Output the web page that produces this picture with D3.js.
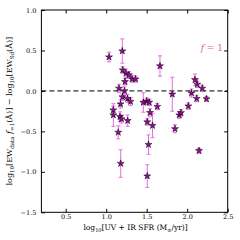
<!DOCTYPE html>
<html>
<head>
<meta charset="utf-8">
<script src="https://cdn.jsdelivr.net/npm/d3@7"></script>
<style>
  body { margin: 0; background: #fff; }
  svg { display: block; }
  text { font-family: "DejaVu Serif", "Liberation Serif", serif; }
</style>
</head>
<body>
<div id="chart"></div>
<script>
// log10 SFR, offset, error
var sfr = [1.035, 1.199, 1.664, 1.204, 1.244, 1.232, 1.281, 1.319, 1.362, 1.158,
           1.226, 1.201, 1.263, 1.300, 1.177, 1.088, 1.088, 1.170, 1.189, 1.265,
           1.149, 1.179, 1.458, 1.500, 1.532, 1.631, 1.541, 1.507, 1.572, 1.522,
           1.507, 1.849, 1.902, 1.923, 2.014, 2.053, 2.096, 2.125, 2.186, 2.117,
           2.238, 1.816, 2.146];
var offset = [0.419, 0.493, 0.308, 0.258, 0.218, 0.114, 0.197, 0.147, 0.147, 0.032,
              0.000, -0.075, -0.094, -0.131, -0.162, -0.236, -0.298, -0.319, -0.347, -0.368,
              -0.512, -0.897, -0.143, -0.127, -0.141, -0.193, -0.269, -0.384, -0.428, -0.663,
              -1.052, -0.468, -0.298, -0.270, -0.187, -0.026, 0.138, 0.082, 0.032, -0.094,
              -0.098, -0.041, -0.739];
var err = [0.06, 0.15, 0.125, 0.04, 0.05, 0.04, 0.04, 0.04, 0.04, 0.05,
           0.05, 0.04, 0.05, 0.05, 0.05, 0.05, 0.14, 0.06, 0.05, 0.07,
           0.08, 0.17, 0.12, 0.04, 0.04, 0.04, 0.05, 0.04, 0.15, 0.12,
           0.14, 0.05, 0.04, 0.04, 0.04, 0.05, 0.07, 0.04, 0.04, 0.04,
           0.03, 0.21, 0.03];

var xTicks = [0.5, 1.0, 1.5, 2.0, 2.5];
var yTicks = [1.0, 0.5, 0.0, -0.5, -1.0, -1.5];

var W = 240, H = 240;
var m = {left: 41.4, right: 12.3, top: 10, bottom: 27.7};

var svg = d3.select('#chart').append('svg')
  .attr('width', W).attr('height', H);

var x = d3.scaleLinear().domain([0.2, 2.5]).range([m.left, W - m.right]);
var y = d3.scaleLinear().domain([-1.5, 1.0]).range([H - m.bottom, m.top]);

var pts = sfr.map(function(d, i) { return {x: d, y: offset[i], e: err[i]}; });

// zero line
svg.append('line')
  .attr('x1', x(0.2)).attr('x2', x(2.5))
  .attr('y1', y(0)).attr('y2', y(0))
  .attr('stroke', '#000').attr('stroke-width', 1)
  .attr('stroke-dasharray', '5,3');

// error bars
var eb = svg.append('g').attr('stroke', '#e070e0').attr('stroke-width', 1);
pts.forEach(function(p) {
  eb.append('line')
    .attr('x1', x(p.x)).attr('x2', x(p.x))
    .attr('y1', y(p.y - p.e)).attr('y2', y(p.y + p.e));
  [p.y - p.e, p.y + p.e].forEach(function(v) {
    eb.append('line')
      .attr('x1', x(p.x) - 2).attr('x2', x(p.x) + 2)
      .attr('y1', y(v)).attr('y2', y(v));
  });
});

// stars
var star = d3.symbol().type(d3.symbolStar).size(15);
svg.append('g').selectAll('path')
  .data(pts)
  .enter().append('path')
  .attr('d', star)
  .attr('transform', function(d) { return 'translate(' + x(d.x) + ',' + y(d.y) + ')'; })
  .attr('fill', '#9c069c')
  .attr('stroke', '#000')
  .attr('stroke-width', 0.5);

// axes, ticks inward on all sides
function style(g) {
  g.select('.domain').remove();
  g.selectAll('line').attr('stroke', '#000');
  g.selectAll('text').attr('font-size', 6.5).attr('fill', '#000')
    .attr('font-family', '"DejaVu Serif", serif');
}
svg.append('g').attr('transform', 'translate(0,' + (H - m.bottom) + ')')
  .call(d3.axisBottom(x).tickValues(xTicks).tickSizeInner(-3.5).tickSizeOuter(0).tickPadding(2)
    .tickFormat(d3.format('.1f')))
  .call(style);
svg.append('g').attr('transform', 'translate(0,' + m.top + ')')
  .call(d3.axisTop(x).tickValues(xTicks).tickSizeInner(-3.5).tickSizeOuter(0).tickFormat(''))
  .call(style);
svg.append('g').attr('transform', 'translate(' + m.left + ',0)')
  .call(d3.axisLeft(y).tickValues(yTicks).tickSizeInner(-3.5).tickSizeOuter(0).tickPadding(5)
    .tickFormat(function(d) { return d3.format('.1f')(d).replace('-', '\u2212'); }))
  .call(style);
svg.append('g').attr('transform', 'translate(' + (W - m.right) + ',0)')
  .call(d3.axisRight(y).tickValues(yTicks).tickSizeInner(-3.5).tickSizeOuter(0).tickFormat(''))
  .call(style);

// frame
svg.append('rect')
  .attr('x', m.left).attr('y', m.top)
  .attr('width', W - m.left - m.right).attr('height', H - m.top - m.bottom)
  .attr('fill', 'none').attr('stroke', '#000').attr('stroke-width', 1);

// f = 1 annotation
var ann = svg.append('text')
  .attr('x', 223).attr('y', 51)
  .attr('text-anchor', 'end')
  .attr('font-size', 9)
  .attr('fill', '#e65aa5');
ann.append('tspan').attr('font-style', 'italic').text('f');
ann.append('tspan').text(' = 1');

// x label
var xl = svg.append('text')
  .attr('x', (m.left + W - m.right) / 2 + 1).attr('y', 230)
  .attr('text-anchor', 'middle')
  .attr('font-size', 7.5);
xl.append('tspan').text('log');
xl.append('tspan').attr('font-size', 5).attr('dy', 1.8).text('10');
xl.append('tspan').attr('dy', -1.8).text('[UV + IR SFR (M');
xl.append('tspan').attr('font-size', 5).attr('dy', 1.8).text('\u2299');
xl.append('tspan').attr('dy', -1.8).text('/yr)]');

// y label
var yl = svg.append('text')
  .attr('transform', 'translate(12,' + ((m.top + H - m.bottom) / 2) + ') rotate(-90)')
  .attr('text-anchor', 'middle')
  .attr('font-size', 8);
yl.append('tspan').text('log');
yl.append('tspan').attr('font-size', 5.5).attr('dy', 2).text('10');
yl.append('tspan').attr('dy', -2).text('[EW');
yl.append('tspan').attr('font-size', 5.5).attr('dy', 2).text('data');
yl.append('tspan').attr('dy', -2).attr('font-style', 'italic').text(' f');
yl.append('tspan').attr('font-size', 5.5).attr('dy', 2).text('=1');
yl.append('tspan').attr('dy', -2).text('(\u00c5)] \u2212 log');
yl.append('tspan').attr('font-size', 5.5).attr('dy', 2).text('10');
yl.append('tspan').attr('dy', -2).text('[EW');
yl.append('tspan').attr('font-size', 5.5).attr('dy', 2).text('Sd');
yl.append('tspan').attr('dy', -2).text('(\u00c5)]');
</script>
</body>
</html>
